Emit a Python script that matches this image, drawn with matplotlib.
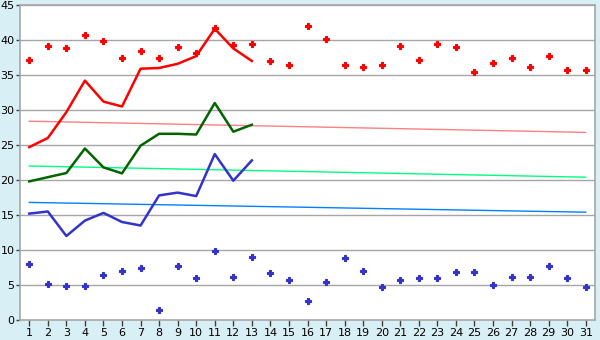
import matplotlib
matplotlib.use("Agg")
import matplotlib.pyplot as plt

days = list(range(1, 32))
line_days = list(range(1, 14))

red_pts = [37.2, 39.1, 38.8, 40.7, 39.8, 37.4, 38.5, 37.5, 39.0, 38.1,
           41.7, 39.3, 39.4, 37.0, 36.4, 42.0, 40.2, 36.4, 36.1, 36.4,
           39.1, 37.2, 39.4, 39.0, 35.5, 36.7, 37.4, 36.2, 37.7, 35.7, 35.7]
blue_pts = [7.95, 5.1, 4.8, 4.8, 6.5, 6.95, 7.4, 1.5, 7.67, 5.95,
            9.8, 6.2, 9.0, 6.7, 5.7, 2.7, 5.4, 8.8, 7.0, 4.7,
            5.7, 5.95, 5.95, 6.8, 6.8, 4.95, 6.2, 6.1, 7.67, 5.95, 4.7]

red_line = [24.7, 26.0, 29.7, 34.2, 31.2, 30.5, 35.9, 36.0, 36.6, 37.7, 41.6, 38.8, 37.0]
green_line = [19.8, 20.4, 21.0, 24.5, 21.8, 20.95, 24.9, 26.6, 26.6, 26.5, 31.0, 26.9, 27.9]
blue_line = [15.2, 15.5, 12.0, 14.2, 15.3, 14.0, 13.5, 17.8, 18.2, 17.7, 23.7, 19.9, 22.8]

trend_days = [1, 31]
red_trend = [28.4, 26.8]
green_trend = [22.0, 20.4]
blue_trend = [16.8, 15.4]

bg = "#d9eff6"
grid_c = "#a6a6a6"

fig = plt.figure(figsize=(6, 3.4), dpi=100, facecolor=bg)
ax = fig.add_axes([20 / 600, 20 / 340, 575 / 600, 315 / 340])
ax.set_facecolor("white")

for v in range(5, 46, 5):
    ax.axhline(v, color=grid_c, lw=1, zorder=0)

ax.plot(trend_days, red_trend, color="#ff8080", lw=1)
ax.plot(trend_days, green_trend, color="#00ff80", lw=1)
ax.plot(trend_days, blue_trend, color="#0080ff", lw=1)

ax.plot(line_days, red_line, color="#ff0000", lw=1.8)
ax.plot(line_days, green_line, color="#006400", lw=1.8)
ax.plot(line_days, blue_line, color="#3333cc", lw=1.8)

ax.plot(days, red_pts, ls="none", marker="P", ms=5, color="#ff0000", mew=0.8)
ax.plot(days, blue_pts, ls="none", marker="P", ms=5, color="#3333cc", mew=0.8)

ax.set_xlim(0.5, 31.5)
ax.set_ylim(0, 45)
ax.set_xticks(days)
ax.set_yticks(range(0, 46, 5))
ax.tick_params(axis="x", labelsize=8, length=4, width=1, pad=2, color="#404040")
ax.tick_params(axis="y", labelsize=8, length=3, width=1, pad=1, color="#404040")
for s in ax.spines.values():
    s.set_color(grid_c)
    s.set_linewidth(1.2)

fig.savefig("out.png", dpi=100, facecolor=bg)
